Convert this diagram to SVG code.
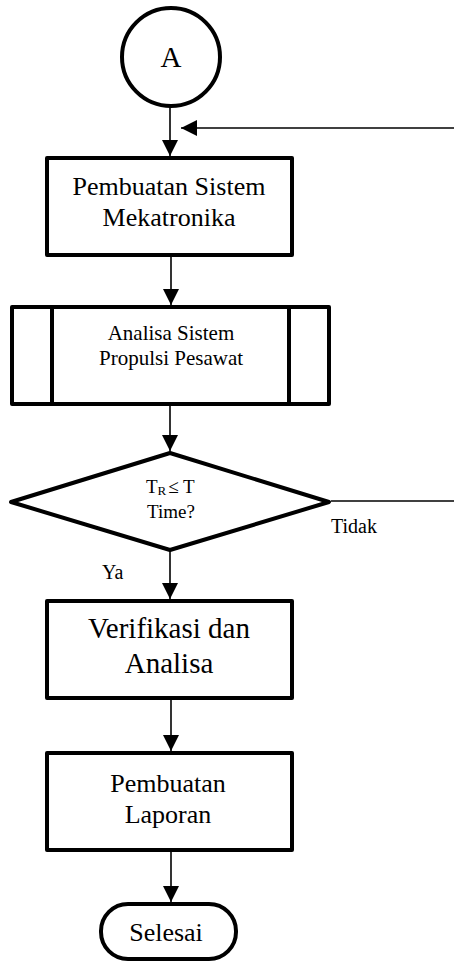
<svg xmlns="http://www.w3.org/2000/svg" width="454" height="962" viewBox="0 0 454 962">
<style>
.node{fill:#fff;stroke:#000;stroke-width:4;stroke-linejoin:round}
.inner{fill:none;stroke:#000;stroke-width:4}
.conn{fill:none;stroke:#000;stroke-width:1.6}
text{font-family:"Liberation Serif","Times New Roman",serif;fill:#000;text-anchor:middle}
.lbl{text-anchor:start}
</style>
<defs>
<marker id="arr" markerUnits="userSpaceOnUse" markerWidth="16" markerHeight="16" viewBox="0 0 14 14" refX="14" refY="7" orient="auto">
<path d="M0,0 L14,7 L0,14 Z" fill="#000"/>
</marker>
</defs>
<rect width="454" height="962" fill="#fff"/>
<g id="connectors">
<line class="conn" x1="170" y1="107" x2="170" y2="156" marker-end="url(#arr)"/>
<line class="conn" x1="454" y1="128" x2="181" y2="128" marker-end="url(#arr)"/>
<line class="conn" x1="171" y1="256" x2="171" y2="305" marker-end="url(#arr)"/>
<line class="conn" x1="170" y1="405" x2="170" y2="451" marker-end="url(#arr)"/>
<line class="conn" x1="331" y1="501" x2="454" y2="501"/>
<line class="conn" x1="170" y1="551" x2="170" y2="599" marker-end="url(#arr)"/>
<line class="conn" x1="171" y1="699" x2="171" y2="751" marker-end="url(#arr)"/>
<line class="conn" x1="171" y1="851" x2="171" y2="902" marker-end="url(#arr)"/>
<text class="lbl" x="331" y="533" font-size="20">Tidak</text>
<text class="lbl" x="102" y="579" font-size="20">Ya</text>
</g>
<g id="node-a">
<circle class="node" cx="171" cy="57" r="49"/>
<text x="171" y="67" font-size="29">A</text>
</g>
<g id="node-pembuatan-sistem">
<rect class="node" x="47" y="158" width="245" height="97"/>
<text x="169" y="195" font-size="26">Pembuatan Sistem</text>
<text x="169" y="226" font-size="26">Mekatronika</text>
</g>
<g id="node-analisa-sistem">
<rect class="node" x="12" y="307" width="317" height="97"/>
<line class="inner" x1="52" y1="307" x2="52" y2="404"/>
<line class="inner" x1="289" y1="307" x2="289" y2="404"/>
<text x="171" y="340" font-size="21">Analisa Sistem</text>
<text x="171" y="365" font-size="21">Propulsi Pesawat</text>
</g>
<g id="node-decision">
<polygon class="node" points="170,453 329,502 170,550 11,502"/>
<text class="lbl" x="146" y="493" font-size="19">T<tspan font-size="13" dy="2">R</tspan><tspan dy="-2" dx="2">≤ T</tspan></text>
<text x="171" y="518" font-size="19">Time?</text>
</g>
<g id="node-verifikasi">
<rect class="node" x="47" y="601" width="245" height="97"/>
<text x="169" y="638" font-size="29">Verifikasi dan</text>
<text x="169" y="673" font-size="29">Analisa</text>
</g>
<g id="node-laporan">
<rect class="node" x="47" y="753" width="245" height="97"/>
<text x="168" y="792" font-size="26">Pembuatan</text>
<text x="168" y="823" font-size="26">Laporan</text>
</g>
<g id="node-selesai">
<rect class="node" x="101" y="904" width="135" height="55" rx="27" ry="27"/>
<text x="166" y="941" font-size="26">Selesai</text>
</g>
</svg>
